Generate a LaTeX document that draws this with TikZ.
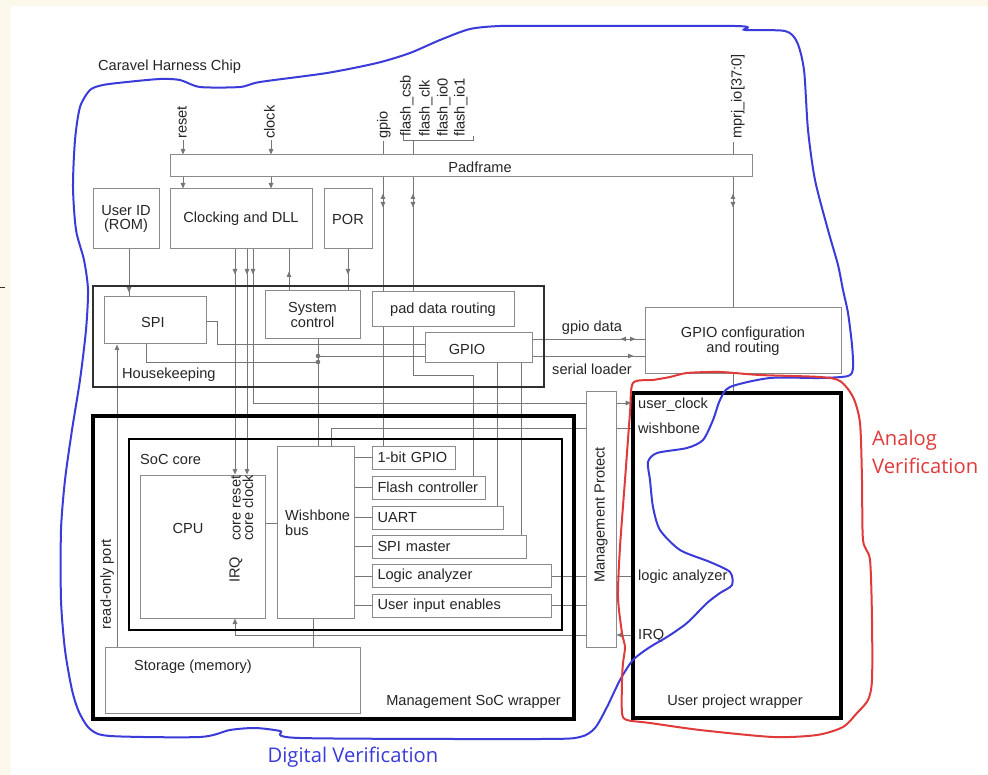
\documentclass[tikz,border=0pt]{standalone}
\usepackage{fontspec}
\setmainfont{Liberation Sans}
\newfontfamily\annotfont{Open Sans}
\usetikzlibrary{arrows.meta,decorations.markings}
\pgfdeclarelayer{bglayer}
\pgfdeclarelayer{wires}
\pgfsetlayers{bglayer,wires,main}
\definecolor{cream}{HTML}{FDF8EC}
\definecolor{ln}{HTML}{767676}
\definecolor{bx}{HTML}{8A8A8A}
\definecolor{hkc}{HTML}{303030}
\definecolor{txt}{HTML}{262626}
\definecolor{hblue}{HTML}{3B3BDA}
\definecolor{hred}{HTML}{E03A3A}
\newcommand\mainsize{\fontsize{14.6pt}{14.8pt}\selectfont}
\begin{document}
\begin{tikzpicture}[x=1pt,y=-1pt,
  >={Triangle[length=5.5pt,width=4.5pt]},
  every node/.style={font=\mainsize, text=txt},
  conn/.style={color=ln, line width=0.9pt},
  box/.style={draw=bx, fill=white, line width=1pt, inner sep=0pt, align=center},
  pbox/.style={box, anchor=west, align=left, inner xsep=5pt, inner ysep=0pt, minimum height=23pt},
  hkbox/.style={draw=hkc, line width=1.6pt, inner sep=0pt},
  corebox/.style={draw=black, line width=2pt, inner sep=0pt},
  wrapbox/.style={draw=black, line width=3.6pt, inner sep=0pt},
  lbl/.style={inner sep=0pt},
  vlbl/.style={inner sep=0pt, rotate=90, anchor=mid west},
  mat/.style={decoration={markings,mark=at position #1 with {\arrow{>}}},postaction=decorate},
  matr/.style={decoration={markings,mark=at position #1 with {\arrowreversed{>}}},postaction=decorate},
  bidir/.style={decoration={markings,mark=at position 16pt with {\arrowreversed{>}},mark=at position 30pt with {\arrow{>}}},postaction=decorate},
]
\useasboundingbox (0,0) rectangle (988,775);
\begin{pgfonlayer}{bglayer}
  \fill[cream] (0,0) rectangle (988,775);
  \fill[white] (11,6) rectangle (988,775);
  \draw[hkc, line width=0.8pt] (0,287) -- (5,287);
\end{pgfonlayer}

% ---------- top labels ----------
\node[lbl, anchor=west] (caravel) at (98,67) {Caravel Harness Chip};
\node[vlbl] (lreset) at (184,139) {reset};
\node[vlbl] (lclock) at (272,139) {clock};
\node[vlbl] (lgpio) at (385,139) {gpio};
\node[vlbl] (lfcsb) at (408,137) {flash\_csb};
\node[vlbl] (lfclk) at (427,137) {flash\_clk};
\node[vlbl] (lfio0) at (445,137) {flash\_io0};
\node[vlbl] (lfio1) at (462,137) {flash\_io1};
\node[vlbl] (lmprj) at (739,139) {mprj\_io[37:0]};

% ---------- boxes ----------
\node[box, minimum width=582pt, minimum height=22pt] (pad) at (461,166) {};
\node[lbl] (padlbl) at (480,167) {Padframe};
\node[box, minimum width=66pt, minimum height=60pt] (uid) at (126,219) {User ID\\(ROM)};
\node[box, minimum width=142pt, minimum height=60pt] (clk) at (241,219) {Clocking and DLL};
\node[box, minimum width=48pt, minimum height=60pt] (por) at (348,219) {POR};

\node[hkbox, minimum width=451pt, minimum height=101pt] (hk) at (318.5,336.5) {};
\node[lbl, anchor=west] (hklbl) at (122,375) {Housekeeping};
\node[box, minimum width=102pt, minimum height=47pt] (spi) at (155,320.5) {};
\node[lbl] (spilbl) at (153,322) {SPI};
\node[box, minimum width=95pt, minimum height=48pt] (sysctl) at (312.5,315) {System\\control};
\node[box, minimum width=142pt, minimum height=35pt] (pdr) at (443,309.5) {pad data routing};
\node[box, minimum width=107pt, minimum height=30pt] (gpio) at (478.5,348) {};
\node[lbl] (gpiolbl) at (467,349) {GPIO};
\node[box, minimum width=196pt, minimum height=66pt] (gpiocfg) at (743,341) {GPIO configuration\\and routing};
\node[lbl] (gdlbl) at (592,328) {gpio data};
\node[lbl] (sllbl) at (592,369) {serial loader};

\node[wrapbox, minimum width=481pt, minimum height=303pt] (wrap) at (333.5,567.5) {};
\node[lbl, anchor=east] (wraplbl) at (561,702) {Management SoC wrapper};
\node[corebox, minimum width=433pt, minimum height=191pt] (core) at (345.5,534.5) {};
\node[lbl, anchor=west] (corelbl) at (140,459) {SoC core};
\node[box, minimum width=125pt, minimum height=143pt] (cpu) at (202.5,546.5) {};
\node[lbl] (cpulbl) at (188,528) {CPU};
\node[lbl, rotate=90] (crst) at (236,508) {core reset};
\node[lbl, rotate=90] (cclk) at (248,508) {core clock};
\node[lbl, rotate=90] (cirq) at (236,570) {IRQ};
\node[box, minimum width=77pt, minimum height=172pt] (wb) at (315.5,532) {};
\node[lbl, anchor=west, align=left] (wblbl) at (285,523) {Wishbone\\bus};

\node[pbox, text width=73pt] (gpio1) at (372,457.5) {1-bit GPIO};
\node[pbox, text width=103pt] (flash) at (372,487.5) {Flash controller};
\node[pbox, text width=121pt] (uart) at (372,517.5) {UART};
\node[pbox, text width=144pt] (spim) at (372,546.5) {SPI master};
\node[pbox, text width=169pt] (la) at (372,576) {Logic analyzer};
\node[pbox, text width=169pt] (uie) at (372,605.5) {User input enables};

\node[box, minimum width=255pt, minimum height=66pt] (st) at (232.5,680) {};
\node[lbl, anchor=west] (stlbl) at (134,667) {Storage (memory)};
\node[lbl, rotate=90] (rop) at (107,584) {read-only port};

\node[box, minimum width=30pt, minimum height=255pt] (mprot) at (601,519.5) {};
\node[lbl, rotate=90] (mplbl) at (601,515) {Management Protect};

\node[wrapbox, minimum width=208pt, minimum height=325pt] (upw) at (737,555.5) {};
\node[lbl] (upwlbl) at (735,702) {User project wrapper};
\node[lbl, anchor=west] (uclbl) at (638,405) {user\_clock};
\node[lbl, anchor=west] (wbslbl) at (638,428) {wishbone};
\node[lbl, anchor=west] (lalbl) at (638,577) {logic analyzer};
\node[lbl, anchor=west] (irqlbl) at (638,636) {IRQ};

% ---------- coordinates ----------
\coordinate (rs) at (183,140);
\coordinate (ck) at (271,140);
\coordinate (gp) at (383,141);
\coordinate (fl) at (413,140);
\coordinate (mpio) at (733,142);
\coordinate (fj1) at (413,375);
\coordinate (fj2) at (473,375);
\coordinate (ui) at (129,0);
\coordinate (c1) at (235,0);
\coordinate (c2) at (247,0);
\coordinate (c3) at (253,0);
\coordinate (ucy) at (253,403);
\coordinate (sc) at (289,0);
\coordinate (pr) at (348,0);
\coordinate (sx) at (318,0);
\coordinate (dot1) at (318,356);
\coordinate (dot2) at (318,362);
\coordinate (sr1) at (217,321);
\coordinate (sr2) at (217,344);
\coordinate (sb) at (146,362);
\coordinate (gd) at (0,339);
\coordinate (sl) at (0,356);
\coordinate (gu) at (497,0);
\coordinate (gs) at (521,0);
\coordinate (wbx) at (331,428);
\coordinate (irq) at (235,635);
\coordinate (ws) at (313,0);
\coordinate (ro) at (117,0);
\coordinate (cw) at (0,523);

% ---------- connectors ----------
\begin{pgfonlayer}{wires}
\draw[conn] (403,136) -- (403,140) -- (473,140) -- (473,136);
\draw[conn,->] (rs) -- (rs |- pad.north);
\draw[conn,->] (rs |- pad.south) -- (rs |- clk.north);
\draw[conn,->] (ck) -- (ck |- pad.north);
\draw[conn,->] (ck |- pad.south) -- (ck |- clk.north);
\draw[conn] (gp) -- (gp |- pad.north);
\draw[conn,bidir] (gp |- pad.south) -- (gp |- gpio1.north);
\draw[conn] (fl) -- (fl |- pad.north);
\draw[conn,bidir] (fl |- pad.south) -- (fj1) -- (fj2) -- (fj2 |- flash.north);
\draw[conn] (mpio) -- (mpio |- pad.north);
\draw[conn,bidir] (mpio |- pad.south) -- (mpio |- gpiocfg.north);
\draw[conn] (mpio |- gpiocfg.south) -- (mpio |- upw.north);

\draw[conn,mat=43pt] (ui |- uid.south) -- (ui |- spi.north);
\draw[conn,->,mat=25pt] (c1 |- clk.south) -- (c1 |- cpu.north);
\draw[conn,->,mat=25pt] (c2 |- clk.south) -- (c2 |- cpu.north);
\draw[conn,mat=25pt] (c3 |- clk.south) -- (ucy) -- (ucy -| mprot.west);
\draw[conn,->] (ucy -| mprot.east) -- (ucy -| upw.west);
\draw[conn,mat=19pt] (sc |- sysctl.north) -- (sc |- clk.south);
\draw[conn,mat=25pt] (pr |- por.south) -- (pr |- sysctl.north);

\draw[conn] (sx |- sysctl.south) -- (sx |- wb.north);
\draw[conn] (spi.east |- sr1) -- (sr1) -- (sr2) -- (sr2 -| gpio.west);
\draw[conn] (sb |- spi.south) -- (sb) -- (dot2);
\draw[conn] (dot1) -- (dot1 -| gpio.west);
\fill[ln] (dot1) circle[radius=2.3pt];
\fill[ln] (dot2) circle[radius=2.3pt];

\draw[conn,decoration={markings,mark=at position 88pt with {\arrowreversed{>}},mark=at position 103pt with {\arrow{>}}},postaction=decorate] (gd -| gpio.east) -- (gd -| gpiocfg.west);
\draw[conn,mat=101pt] (sl -| gpio.east) -- (sl -| gpiocfg.west);
\draw[conn] (gu |- gpio.south) -- (gu |- uart.north);
\draw[conn] (gs |- gpio.south) -- (gs |- spim.north);

\draw[conn] (wbx -| mprot.west) -- (wbx) -- (wbx |- wb.north);
\draw[conn] (wbx -| mprot.east) -- (wbx -| upw.west);
\draw[conn] (la.east) -- (la.east -| mprot.west);
\draw[conn] (la.east -| mprot.east) -- (la.east -| upw.west);
\draw[conn] (uie.east) -- (uie.east -| mprot.west);
\draw[conn,->] (irq -| upw.west) -- (irq -| mprot.east);
\draw[conn,->] (irq -| mprot.west) -- (irq) -- (irq |- cpu.south);
\draw[conn] (ws |- wb.south) -- (ws |- st.north);
\draw[conn,->] (ro |- st.north) -- (ro |- spi.south);
\draw[conn] (cw -| cpu.east) -- (cw -| wb.west);
\foreach \p in {gpio1,flash,uart,spim,la,uie}
  \draw[conn] (\p.west -| wb.east) -- (\p.west);
\end{pgfonlayer}

% ---------- hand-drawn outlines ----------
\draw[hblue, line width=2pt] plot[smooth cycle, tension=0.45] coordinates {
(73,187) (75,140) (80,107) (90,90) (103,85) (127,82) (160,79) (180,80) (200,87) (240,87) (260,82)
(327,73) (377,63) (410,53) (440,40) (470,29) (500,26) (540,26) (735,26) (745,30) (785,31)
(797,42) (804,70) (808,130) (815,180) (828,230) (838,265) (843,290) (848,313) (852,345)
(853,368) (848,376) (820,378) (770,378) (730,387) (720,400) (713,420) (703,440) (687,448)
(657,453) (648,462) (650,480) (653,507) (660,530) (680,550) (710,562) (730,572) (732,585)
(720,593) (707,603) (687,623) (667,637) (650,647) (633,660) (620,680) (607,707) (595,728)
(580,737) (540,739) (300,738) (280,731) (255,728) (230,730) (200,737) (110,736) (90,729)
(79,712) (72,690) (65,650) (61,600) (61,530) (65,480) (72,430) (80,380) (86,330) (88,290)
(84,260) (76,230)};
\draw[hred, line width=2pt] plot[smooth cycle, tension=0.45] coordinates {
(633,383) (653,380) (670,377) (687,373) (720,372) (760,375) (820,377) (840,381) (853,397)
(860,423) (862,480) (863,540) (870,560) (872,620) (872,680) (868,700) (857,713) (843,727)
(817,735) (773,737) (700,730) (650,723) (627,720) (622,713) (622,680) (623,663) (625,647)
(622,633) (618,597) (620,547) (625,480) (630,413)};
\node[lbl, anchor=west, text=hred, font=\annotfont\fontsize{20.2pt}{28pt}\selectfont, align=left] (analog) at (872,452) {Analog\\Verification};
\node[lbl, text=hblue, font=\annotfont\fontsize{20.2pt}{24pt}\selectfont] (digital) at (353,757) {Digital Verification};
\end{tikzpicture}
\end{document}
